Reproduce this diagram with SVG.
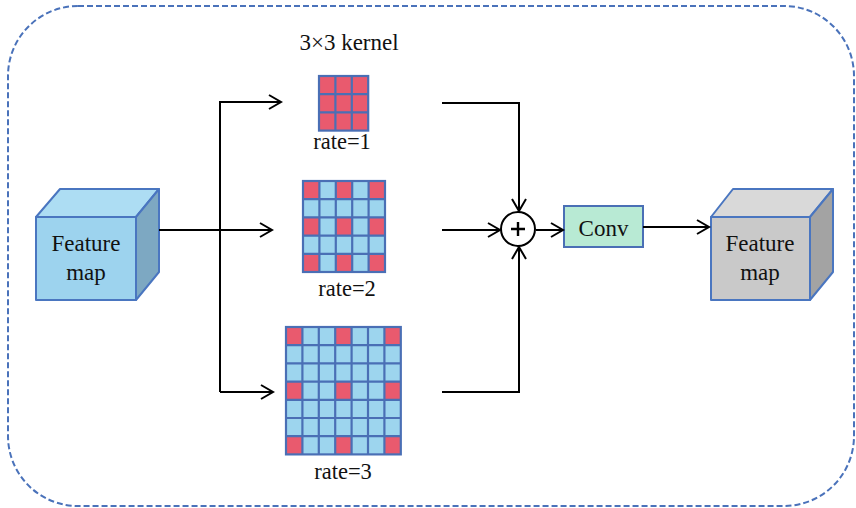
<svg xmlns="http://www.w3.org/2000/svg" width="856" height="508" viewBox="0 0 856 508">
<defs>
<marker id="arr" markerUnits="userSpaceOnUse" markerWidth="16" markerHeight="16" refX="12" refY="7" orient="auto" overflow="visible">
<path d="M0,0 L12,7 L0,14" fill="none" stroke="#000" stroke-width="2"/>
</marker>
<style>
.t{font-family:"Liberation Serif","Times New Roman",serif;fill:#111;text-anchor:middle}
.ln{fill:none;stroke:#000;stroke-width:2}
.grid{fill:none;stroke:#4A6FB5;stroke-width:2.2}
.red{fill:#E95A6E}
.blue{fill:#9DD5EE}
.edge{stroke:#4A76C0;stroke-width:2;stroke-linejoin:round}
</style>
</defs>
<rect x="0" y="0" width="856" height="508" fill="#fff"/>
<rect x="8" y="6" width="846" height="500" rx="70" ry="70" fill="none" stroke="#4A72BA" stroke-width="2" stroke-dasharray="6,3"/>

<g id="feature-in">
<polygon class="edge" points="36,217 60,189 159,189 136,217" fill="#ADDDF3"/>
<polygon class="edge" points="136,217 159,189 159,272 136,300" fill="#7DA8C2"/>
<rect class="edge" x="36" y="217" width="100" height="83" fill="#9DD3EE"/>
<text class="t" x="86" y="251" font-size="23">Feature</text>
<text class="t" x="86" y="280" font-size="23">map</text>
</g>

<g id="kernel-label">
<text class="t" x="349" y="50" font-size="23">3×3 kernel</text>
</g>

<g id="rate1">
<rect class="red" x="319" y="76" width="49.2" height="54.6"/>
<path class="grid" d="M335.4,76V130.6M351.8,76V130.6M319,94.2H368.2M319,112.4H368.2"/>
<rect class="grid" x="319" y="76" width="49.2" height="54.6"/>
<text class="t" x="342" y="149" font-size="22.5">rate=1</text>
</g>

<g id="rate2">
<rect class="blue" x="303" y="181" width="82" height="91"/>
<rect class="red" x="303" y="181" width="16.4" height="18.2"/>
<rect class="red" x="335.8" y="181" width="16.4" height="18.2"/>
<rect class="red" x="368.6" y="181" width="16.4" height="18.2"/>
<rect class="red" x="303" y="217.4" width="16.4" height="18.2"/>
<rect class="red" x="335.8" y="217.4" width="16.4" height="18.2"/>
<rect class="red" x="368.6" y="217.4" width="16.4" height="18.2"/>
<rect class="red" x="303" y="253.8" width="16.4" height="18.2"/>
<rect class="red" x="335.8" y="253.8" width="16.4" height="18.2"/>
<rect class="red" x="368.6" y="253.8" width="16.4" height="18.2"/>
<path class="grid" d="M319.4,181V272M335.8,181V272M352.2,181V272M368.6,181V272M303,199.2H385M303,217.4H385M303,235.6H385M303,253.8H385"/>
<rect class="grid" x="303" y="181" width="82" height="91"/>
<text class="t" x="347" y="296" font-size="22.5">rate=2</text>
</g>

<g id="rate3">
<rect class="blue" x="286" y="327" width="114.8" height="127.4"/>
<rect class="red" x="286" y="327" width="16.4" height="18.2"/>
<rect class="red" x="335.2" y="327" width="16.4" height="18.2"/>
<rect class="red" x="384.4" y="327" width="16.4" height="18.2"/>
<rect class="red" x="286" y="381.6" width="16.4" height="18.2"/>
<rect class="red" x="335.2" y="381.6" width="16.4" height="18.2"/>
<rect class="red" x="384.4" y="381.6" width="16.4" height="18.2"/>
<rect class="red" x="286" y="436.2" width="16.4" height="18.2"/>
<rect class="red" x="335.2" y="436.2" width="16.4" height="18.2"/>
<rect class="red" x="384.4" y="436.2" width="16.4" height="18.2"/>
<path class="grid" d="M302.4,327V454.4M318.8,327V454.4M335.2,327V454.4M351.6,327V454.4M368,327V454.4M384.4,327V454.4M286,345.2H400.8M286,363.4H400.8M286,381.6H400.8M286,399.8H400.8M286,418H400.8M286,436.2H400.8"/>
<rect class="grid" x="286" y="327" width="114.8" height="127.4"/>
<text class="t" x="343" y="479" font-size="22.5">rate=3</text>
</g>

<g id="sum">
<circle cx="518" cy="229" r="17" fill="#fff" stroke="#000" stroke-width="2"/>
<path d="M511,229H525M518,222V236" stroke="#000" stroke-width="2.4"/>
</g>

<g id="conv">
<rect x="564" y="206" width="79" height="41" fill="#B8EAD4" stroke="#4A6FB5" stroke-width="2"/>
<text class="t" x="603.5" y="236" font-size="23">Conv</text>
</g>

<g id="feature-out">
<polygon class="edge" points="711,217 733,189 833,189 810,217" fill="#D9D9D9"/>
<polygon class="edge" points="810,217 833,189 833,272 810,300" fill="#A3A3A3"/>
<rect class="edge" x="711" y="217" width="99" height="83" fill="#C9C9C9"/>
<text class="t" x="760" y="251" font-size="23">Feature</text>
<text class="t" x="760" y="280" font-size="23">map</text>
</g>

<g id="connectors">
<path class="ln" d="M159,230H272" marker-end="url(#arr)"/>
<path class="ln" d="M220,392V102H281" marker-end="url(#arr)"/>
<path class="ln" d="M220,392H273" marker-end="url(#arr)"/>
<path class="ln" d="M442,103H519V211" marker-end="url(#arr)"/>
<path class="ln" d="M442,230H500" marker-end="url(#arr)"/>
<path class="ln" d="M442,392H519V247" marker-end="url(#arr)"/>
<path class="ln" d="M536,230H563" marker-end="url(#arr)"/>
<path class="ln" d="M643,227H709" marker-end="url(#arr)"/>
</g>
</svg>
